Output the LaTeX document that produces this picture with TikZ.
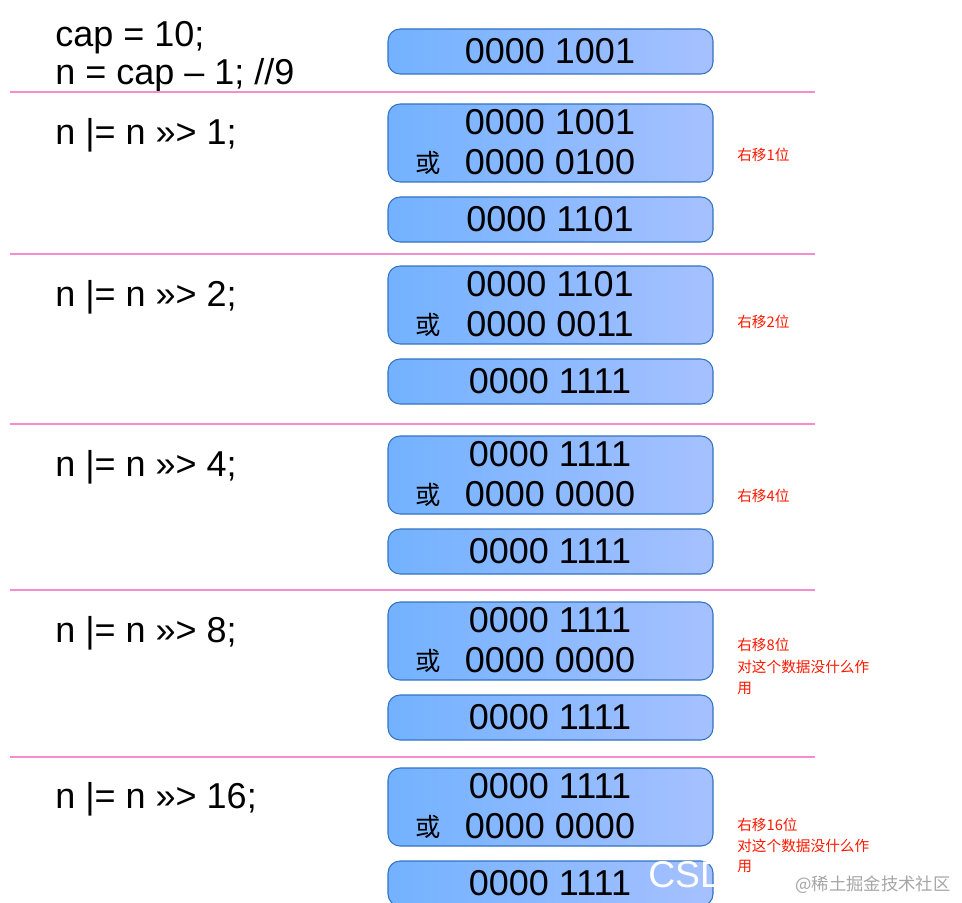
\documentclass[tikz,border=0pt]{standalone}
\usepackage{fontspec}
\setmainfont{Liberation Sans}
\newfontfamily\cjk{Noto Sans CJK SC}
\begin{document}
\begin{tikzpicture}[x=0.75pt,y=-0.75pt,
  bx/.style={draw=blue!55!cyan!70!black!80,line width=0.8pt,rounded corners=9pt,left color=cyan!45!blue!55,right color=cyan!30!blue!35,inner sep=0pt},
  big/.style={font=\fontsize{27}{30}\selectfont,inner sep=0pt},
  sep/.style={draw=magenta!45,line width=1pt},
  red/.style={font=\cjk\fontsize{11}{13}\selectfont,text=red!80!orange,anchor=west,inner sep=0pt,align=left}]
\useasboundingbox[fill=white] (0,0) rectangle (962,902);
% row 0
\node[big,anchor=west] (c0a) at (55,38) {cap = 10;};
\node[big,anchor=west] (c0b) at (55,75) {n = cap – 1; //9};
\draw[bx] (388,29) rectangle (713,74);
\node[big] (r0) at (550,51) {0000 1001};
\draw[sep] (10,92) -- (815,92);
% generic rows
\foreach \i/\top/\lab/\a/\b/\res/\rd in {1/104/1/0000 1001/0000 0100/0000 1101/155,2/266/2/0000 1101/0000 0011/0000 1111/322,3/436/4/0000 1111/0000 0000/0000 1111/496,4/602/8/0000 1111/0000 0000/0000 1111/645,5/768/16/0000 1111/0000 0000/0000 1111/825}{
  \draw[bx] (388,\top) rectangle (713,\top+78);
  \draw[bx] (388,\top+93) rectangle (713,\top+138);
  \node[big] (a\i) at (550,\top+18) {\a};
  \node[big] (b\i) at (550,\top+58) {\b};
  \node[font=\cjk\fontsize{19}{22}\selectfont,inner sep=0pt] (h\i) at (428,\top+59) {或};
  \node[big] (s\i) at (550,\top+115) {\res};
  \node[big,anchor=west] (l\i) at (55,\top+31) {n |= n >>> \lab;};
  \node[red] (t\i) at (737,\rd) {右移\lab 位};
}
\draw[sep] (10,254) -- (815,254);
\draw[sep] (10,424) -- (815,424);
\draw[sep] (10,590) -- (815,590);
\draw[sep] (10,757) -- (815,757);
\node[red] (u4) at (737,667) {对这个数据没什么作};
\node[red] (v4) at (737,688) {用};
\node[red] (u5) at (737,846) {对这个数据没什么作};
\node[red] (v5) at (737,866) {用};
\node[font=\fontsize{28}{30}\selectfont,text=white,anchor=west,inner sep=0pt] (w1) at (648,875) {CSD};
\node[font=\cjk\fontsize{13}{15}\selectfont,text=gray!70,anchor=west,inner sep=0pt] (w2) at (795,885) {@稀土掘金技术社区};
\end{tikzpicture}
\end{document}
